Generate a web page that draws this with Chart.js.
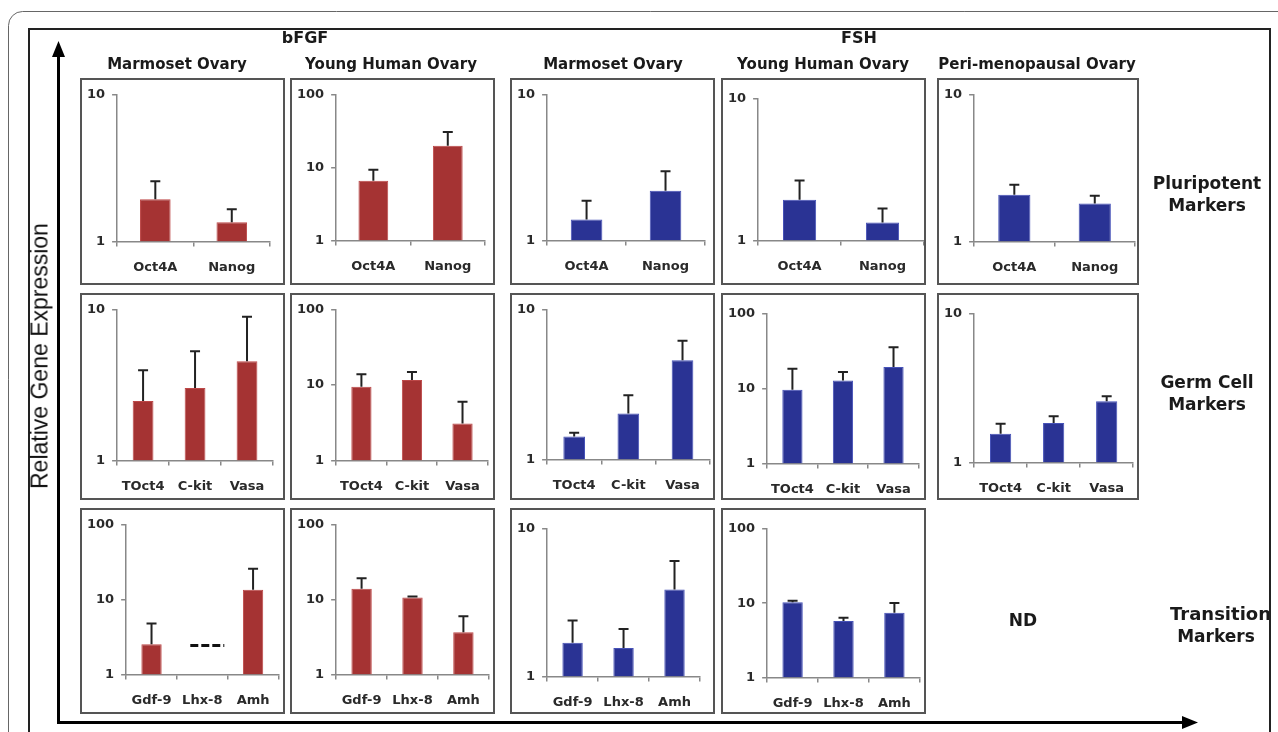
<!DOCTYPE html>
<html lang="en">
<head>
<meta charset="UTF-8">
<title>Relative Gene Expression - bFGF / FSH</title>
<script src="https://cdn.jsdelivr.net/npm/chart.js"></script>
<style>
  body { margin: 0; background: #fff; }
  #page { position: relative; width: 1278px; height: 732px; overflow: hidden; font-family: "DejaVu Sans", sans-serif; }
  #frame { position: absolute; left: 0; top: 0; }
  .panel { position: absolute; border: 2px solid #555; box-sizing: border-box; background: #fff; }
  .lbl { position: absolute; transform: translate(-50%, -50%); white-space: nowrap; font-weight: bold; color: #1a1a1a; text-align: center; }
  #ytitle { position: absolute; left: 40px; top: 356px; transform: translate(-50%, -50%) rotate(-90deg); white-space: nowrap;
            font-family: "Liberation Sans", Arial, sans-serif; font-size: 23px; color: #111; }
  #rowclip { position: absolute; left: 1140px; top: 0; width: 129px; height: 732px; overflow: hidden; }
</style>
</head>
<body>
<div id="page">
  <canvas id="frame" width="1278" height="732"></canvas>
  <div id="ytitle">Relative Gene Expression</div>
  <div id="rowclip"></div>
</div>
<script>
// tick labels / categories
const yTickValues = [1, 10, 100];
const pluriGenes = ['Oct4A', 'Nanog'];
const germGenes = ['TOct4', 'C-kit', 'Vasa'];
const transGenes = ['Gdf-9', 'Lhx-8', 'Amh'];

// bFGF - means and upper error (mean + SD)
const bfgfMarmPluri = [1.94, 1.35];
const bfgfMarmPluriErr = [2.58, 1.66];
const bfgfHumPluri = [6.6, 20];
const bfgfHumPluriErr = [9.4, 31];
const bfgfMarmGerm = [2.48, 3.03, 4.55];
const bfgfMarmGermErr = [3.97, 5.3, 9.0];
const bfgfHumGerm = [9.5, 11.7, 3.1];
const bfgfHumGermErr = [13.9, 14.9, 6.0];
const bfgfMarmTrans = [2.53, null, 13.5];
const bfgfMarmTransErr = [4.8, null, 25.9];
const bfgfMarmTransNd = [null, 2.44, null];
const bfgfHumTrans = [14, 10.7, 3.65];
const bfgfHumTransErr = [19.3, 11, 6.0];

// FSH
const fshMarmPluri = [1.39, 2.19];
const fshMarmPluriErr = [1.87, 2.99];
const fshHumPluri = [1.94, 1.34];
const fshHumPluriErr = [2.65, 1.68];
const fshPeriPluri = [2.08, 1.81];
const fshPeriPluriErr = [2.43, 2.05];
const fshMarmGerm = [1.42, 2.03, 4.6];
const fshMarmGermErr = [1.51, 2.68, 6.2];
const fshHumGerm = [9.7, 12.9, 19.5];
const fshHumGermErr = [18.5, 16.7, 36];
const fshPeriGerm = [1.56, 1.84, 2.58];
const fshPeriGermErr = [1.82, 2.05, 2.79];
const fshMarmTrans = [1.69, 1.56, 3.89];
const fshMarmTransErr = [2.39, 2.1, 6.06];
const fshHumTrans = [10.3, 5.74, 7.42];
const fshHumTransErr = [10.8, 6.36, 10.1];

const RED = '#a53333';
const BLUE = '#2a3394';

// panel boxes
const colX = [80, 290, 510, 721, 937];
const colW = [205, 205, 205, 205, 202];
const rowY = [78, 293, 508];
const rowH = [207, 207, 206];

// pad = [top, right, bottom] inside each box (bottom is negative because chart.js doubles tick padding)
const panels = [
  { r: 0, c: 0, labels: pluriGenes, data: bfgfMarmPluri, err: bfgfMarmPluriErr, color: RED, max: 10, pad: [15, 13, -5] },
  { r: 0, c: 1, labels: pluriGenes, data: bfgfHumPluri, err: bfgfHumPluriErr, color: RED, max: 100, pad: [15, 8, -4] },
  { r: 0, c: 2, labels: pluriGenes, data: fshMarmPluri, err: fshMarmPluriErr, color: BLUE, max: 10, pad: [14, 8, -4] },
  { r: 0, c: 3, labels: pluriGenes, data: fshHumPluri, err: fshHumPluriErr, color: BLUE, max: 10, pad: [19, 0, -4] },
  { r: 0, c: 4, labels: pluriGenes, data: fshPeriPluri, err: fshPeriPluriErr, color: BLUE, max: 10, pad: [14, 2, -5] },
  { r: 1, c: 0, labels: germGenes, data: bfgfMarmGerm, err: bfgfMarmGermErr, color: RED, max: 10, pad: [14, 10, -9] },
  { r: 1, c: 1, labels: germGenes, data: bfgfHumGerm, err: bfgfHumGermErr, color: RED, max: 100, pad: [13, 1, -9] },
  { r: 1, c: 2, labels: germGenes, data: fshMarmGerm, err: fshMarmGermErr, color: BLUE, max: 10, pad: [13, 1, -8] },
  { r: 1, c: 3, labels: germGenes, data: fshHumGerm, err: fshHumGermErr, color: BLUE, max: 100, pad: [19, 1, -12] },
  { r: 1, c: 4, labels: germGenes, data: fshPeriGerm, err: fshPeriGermErr, color: BLUE, max: 10, pad: [19, 0, -11] },
  { r: 2, c: 0, labels: transGenes, data: bfgfMarmTrans, err: bfgfMarmTransErr, nd: bfgfMarmTransNd, color: RED, max: 100, pad: [13, 3, -9] },
  { r: 2, c: 1, labels: transGenes, data: bfgfHumTrans, err: bfgfHumTransErr, color: RED, max: 100, pad: [13, 1, -9] },
  { r: 2, c: 2, labels: transGenes, data: fshMarmTrans, err: fshMarmTransErr, color: BLUE, max: 10, pad: [19, 13, -11] },
  { r: 2, c: 3, labels: transGenes, data: fshHumTrans, err: fshHumTransErr, color: BLUE, max: 100, pad: [19, 1, -12] }
];

// frame, arrows
const fc = document.getElementById('frame').getContext('2d');
fc.strokeStyle = '#666';
fc.lineWidth = 1;
fc.beginPath();
fc.roundRect(8.5, 11.5, 1300, 800, 14);
fc.stroke();
fc.strokeStyle = '#222';
fc.lineWidth = 2;
fc.strokeRect(29, 29, 1241, 800);
fc.strokeStyle = '#000';
fc.fillStyle = '#000';
fc.lineWidth = 3;
fc.beginPath();
fc.moveTo(58.5, 54); fc.lineTo(58.5, 722.5);
fc.moveTo(57, 722.5); fc.lineTo(1185, 722.5);
fc.stroke();
fc.beginPath();
fc.moveTo(58.5, 41); fc.lineTo(52, 57); fc.lineTo(65, 57); fc.closePath();
fc.moveTo(1198, 722.5); fc.lineTo(1182, 716); fc.lineTo(1182, 729); fc.closePath();
fc.fill();

// text
const page = document.getElementById('page');
function addLabel(parent, text, x, y, size, align) {
  const d = document.createElement('div');
  d.className = 'lbl';
  d.style.left = x + 'px';
  d.style.top = y + 'px';
  d.style.fontSize = size + 'px';
  d.style.lineHeight = '22px';
  if (align === 'left') d.style.transform = 'translate(0, -50%)';
  d.innerHTML = text;
  parent.appendChild(d);
}
addLabel(page, 'bFGF', 305, 38, 16);
addLabel(page, 'FSH', 859, 38, 16);
addLabel(page, 'Marmoset Ovary', 177, 64, 15);
addLabel(page, 'Young Human Ovary', 391, 64, 15);
addLabel(page, 'Marmoset Ovary', 613, 64, 15);
addLabel(page, 'Young Human Ovary', 823, 64, 15);
addLabel(page, 'Peri-menopausal Ovary', 1037, 64, 15);
addLabel(page, 'ND', 1023, 620, 17);
const rowclip = document.getElementById('rowclip');
addLabel(rowclip, 'Pluripotent<br>Markers', 1207 - 1140, 194, 17);
addLabel(rowclip, 'Germ Cell<br>Markers', 1207 - 1140, 393, 17);
addLabel(rowclip, 'Transitional', 1170 - 1140, 614, 18, 'left');
addLabel(rowclip, 'Markers', 1216 - 1140, 636, 17);

// error bars + "not detected" dashes
const errorBars = {
  id: 'errorBars',
  afterDatasetsDraw(chart) {
    const ctx = chart.ctx;
    const xs = chart.scales.x, ys = chart.scales.y;
    chart.data.datasets.forEach((ds, di) => {
      const meta = chart.getDatasetMeta(di);
      ctx.save();
      ctx.strokeStyle = '#222';
      ctx.lineWidth = 2;
      (ds.errTop || []).forEach((top, i) => {
        if (top == null || ds.data[i] == null) return;
        const bx = meta.data[i].x;
        const y0 = ys.getPixelForValue(ds.data[i]);
        const y1 = ys.getPixelForValue(top);
        ctx.beginPath();
        ctx.moveTo(bx, y0); ctx.lineTo(bx, y1);
        ctx.moveTo(bx - 5, y1); ctx.lineTo(bx + 5, y1);
        ctx.stroke();
      });
      (ds.ndMark || []).forEach((v, i) => {
        if (v == null) return;
        const cx = xs.getPixelForValue(i);
        const py = ys.getPixelForValue(v);
        ctx.strokeStyle = '#111';
        ctx.lineWidth = 3;
        ctx.setLineDash([8, 3]);
        ctx.beginPath();
        ctx.moveTo(cx - 12, py); ctx.lineTo(cx + 22, py);
        ctx.stroke();
        ctx.setLineDash([]);
      });
      ctx.restore();
    });
  }
};

const tickFont = { family: 'DejaVu Sans', size: 13, weight: 'bold' };

panels.forEach(p => {
  const box = document.createElement('div');
  box.className = 'panel';
  box.style.left = colX[p.c] + 'px';
  box.style.top = rowY[p.r] + 'px';
  box.style.width = colW[p.c] + 'px';
  box.style.height = rowH[p.r] + 'px';
  const cv = document.createElement('canvas');
  box.appendChild(cv);
  page.appendChild(box);

  new Chart(cv, {
    type: 'bar',
    data: {
      labels: p.labels,
      datasets: [{
        data: p.data,
        errTop: p.err,
        ndMark: p.nd,
        backgroundColor: p.color,
        borderColor: p.color === RED ? '#bd4848' : '#4652b8',
        borderWidth: 1,
        barPercentage: 0.4,
        categoryPercentage: 1
      }]
    },
    options: {
      responsive: true,
      maintainAspectRatio: false,
      animation: false,
      layout: { padding: { left: -2, top: p.pad[0], right: p.pad[1], bottom: p.pad[2] } },
      plugins: { legend: { display: false }, tooltip: { enabled: false } },
      scales: {
        x: {
          grid: { drawOnChartArea: false, drawTicks: true, tickLength: 5, color: '#888', lineWidth: 1.5, offset: true },
          border: { display: true, color: '#888', width: 1.5 },
          ticks: { color: '#2a2a2a', font: tickFont, padding: 13, maxRotation: 0, autoSkip: false }
        },
        y: {
          type: 'logarithmic',
          min: 1,
          max: p.max,
          afterBuildTicks: s => { s.ticks = yTickValues.filter(v => v <= s.max).map(v => ({ value: v })); },
          grid: { drawOnChartArea: false, drawTicks: true, tickLength: 5, color: '#888', lineWidth: 1.5 },
          border: { display: true, color: '#888', width: 1.5 },
          ticks: { color: '#2a2a2a', font: tickFont, padding: 7, callback: v => String(v) }
        }
      }
    },
    plugins: [errorBars]
  });
});
</script>
</body>
</html>
